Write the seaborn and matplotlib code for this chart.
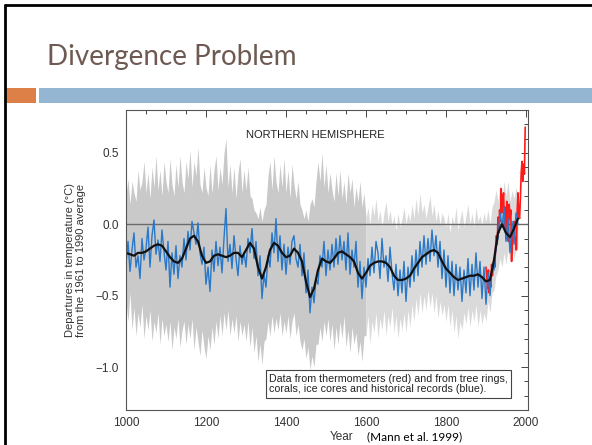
import numpy as np
import matplotlib
matplotlib.use("Agg")
import matplotlib.pyplot as plt
from matplotlib.patches import Rectangle
from matplotlib.lines import Line2D
from matplotlib.ticker import MultipleLocator
import seaborn as sns

# ---- data ----
years_5 = np.arange(1000, 1981, 5)      # annual proxy series shown every 5 years
years_10 = np.arange(1000, 1981, 10)    # smoothed curve every 10 years
years_red = np.arange(1900, 1999, 2)    # instrumental record every 2 years

proxy_blue = [
    -0.28, -0.12, -0.33, -0.18, -0.06, -0.30, -0.22, -0.38, -0.10, -0.25,
    -0.17, -0.02, -0.30, -0.08, 0.03, -0.21, -0.11, -0.26, -0.04, -0.19,
    -0.32, -0.12, -0.44, -0.20, -0.35, -0.15, -0.38, -0.22, -0.30, -0.10,
    -0.25, -0.05, -0.18, 0.02, -0.06, -0.14, 0.01, -0.20, -0.28, -0.16,
    -0.42, -0.30, -0.47, -0.18, -0.33, -0.12, -0.29, -0.16, -0.34, -0.10,
    0.11, -0.26, -0.14, -0.31, -0.08, -0.24, -0.36, -0.15, -0.28, -0.20,
    -0.30, -0.10, -0.20, -0.03, -0.24, -0.12, -0.36, -0.22, -0.52, -0.35,
    -0.44, -0.22, -0.30, -0.06, -0.20, 0.04, -0.26, -0.08, -0.32, -0.14,
    -0.35, -0.16, -0.28, -0.12, -0.08, -0.24, -0.30, -0.14, -0.36, -0.20,
    -0.48, -0.32, -0.62, -0.44, -0.55, -0.38, -0.42, -0.22, -0.30, -0.12,
    -0.36, -0.18, -0.32, -0.14, -0.30, -0.10, -0.28, -0.08, -0.25, -0.12,
    -0.32, -0.06, -0.35, -0.18, -0.30, -0.12, -0.44, -0.26, -0.52, -0.30,
    -0.44, -0.24, -0.36, -0.16, -0.34, -0.12, -0.20, -0.38, -0.10, -0.30,
    -0.22, -0.40, -0.16, -0.34, -0.46, -0.28, -0.50, -0.32, -0.48, -0.26,
    -0.54, -0.30, -0.44, -0.22, -0.40, -0.18, -0.36, -0.12, -0.30, -0.08,
    -0.28, -0.10, -0.26, -0.04, -0.22, -0.08, -0.30, -0.12, -0.38, -0.18,
    -0.44, -0.22, -0.48, -0.26, -0.50, -0.28, -0.46, -0.30, -0.54, -0.32,
    -0.48, -0.24, -0.50, -0.28, -0.46, -0.20, -0.44, -0.26, -0.52, -0.30,
    -0.56, -0.34, -0.50, -0.30, -0.32, -0.16, -0.10, 0.08, -0.02, 0.12,
    -0.12, 0.04, -0.20, 0.02, -0.14, 0.08, 0.00,
]

smooth_black = [
    -0.20, -0.21, -0.22, -0.20, -0.20, -0.19, -0.17, -0.15, -0.14, -0.15,
    -0.19, -0.23, -0.26, -0.27, -0.24, -0.17, -0.10, -0.08, -0.12, -0.22,
    -0.27, -0.26, -0.22, -0.21, -0.22, -0.23, -0.22, -0.20, -0.20, -0.23,
    -0.18, -0.13, -0.17, -0.30, -0.38, -0.30, -0.18, -0.13, -0.15, -0.20,
    -0.23, -0.22, -0.17, -0.20, -0.26, -0.40, -0.51, -0.45, -0.32, -0.24,
    -0.26, -0.27, -0.24, -0.20, -0.19, -0.21, -0.23, -0.26, -0.34, -0.38,
    -0.34, -0.29, -0.27, -0.26, -0.26, -0.27, -0.30, -0.36, -0.39, -0.39,
    -0.38, -0.36, -0.31, -0.27, -0.23, -0.21, -0.19, -0.18, -0.20, -0.26,
    -0.31, -0.34, -0.37, -0.39, -0.38, -0.37, -0.36, -0.36, -0.35, -0.37,
    -0.40, -0.39, -0.25, -0.06, 0.00, -0.06, -0.09, -0.03, 0.04,
]

instrumental_red = [
    -0.30, -0.38, -0.45, -0.32, -0.48, -0.40, -0.44, -0.28, -0.36, -0.30,
    -0.24, -0.30, -0.16, -0.08, -0.14, 0.05, -0.06, 0.10, 0.02, 0.25,
    0.08, 0.18, 0.22, -0.02, 0.12, -0.10, 0.16, -0.06, -0.12, 0.14,
    0.04, 0.10, -0.26, -0.04, -0.10, 0.02, -0.08, -0.14, -0.18, 0.10,
    0.22, 0.06, 0.04, 0.18, 0.36, 0.44, 0.30, 0.42, 0.35, 0.68,
]

band_upper = [
    0.20, 0.32, 0.14, 0.30, 0.22, 0.16, 0.38, 0.24, 0.30, 0.44, 0.22, 0.36, 0.18, 0.40, 0.26, 0.48, 0.24, 0.38, 0.20, 0.44,
    0.30, 0.22, 0.46, 0.28, 0.20, 0.42, 0.26, 0.48, 0.30, 0.22, 0.44, 0.32, 0.52, 0.26, 0.44, 0.34, 0.54, 0.28, 0.22, 0.40,
    0.26, 0.20, 0.42, 0.22, 0.38, 0.48, 0.24, 0.40, 0.28, 0.50, 0.60, 0.26, 0.42, 0.22, 0.40, 0.18, 0.36, 0.46, 0.22, 0.38,
    0.24, 0.40, 0.20, 0.18, 0.10, 0.08, 0.04, 0.12, 0.02, 0.10, 0.14, 0.34, 0.44, 0.24, 0.48, 0.30, 0.22, 0.42, 0.26, 0.46,
    0.22, 0.38, 0.18, 0.42, 0.28, 0.18, 0.30, 0.14, 0.10, 0.04, 0.10, 0.02, 0.14, 0.18, 0.12, 0.30, 0.44, 0.30, 0.50, 0.26,
    0.42, 0.22, 0.36, 0.24, 0.16, 0.36, 0.20, 0.38, 0.18, 0.30, 0.14, 0.36, 0.22, 0.32, 0.12, 0.26, 0.16, 0.30, 0.12, 0.22,
    0.04, 0.12, 0.00, 0.14, 0.06, 0.18, 0.02, 0.10, -0.02, 0.08, 0.16, 0.02, 0.10, 0.00, 0.06, -0.04, 0.08, -0.02, 0.04, 0.12,
    0.00, 0.08, 0.02, 0.14, 0.04, 0.18, 0.06, 0.22, 0.08, 0.14, 0.04, 0.12, 0.20, 0.06, 0.14, 0.02, 0.10, 0.00, 0.08, 0.04,
    -0.02, 0.08, -0.06, 0.06, 0.00, 0.12, -0.04, 0.04, 0.10, -0.02, 0.06, 0.14, 0.00, 0.08, -0.02, 0.12, 0.02, 0.06, 0.00, 0.08,
    0.02, 0.10, 0.00, 0.12, 0.16, 0.24, 0.16, 0.28, 0.18, 0.30, 0.20, 0.30, 0.16, 0.24, 0.18, 0.26, 0.20,
]

band_lower = [
    -0.54, -0.68, -0.48, -0.74, -0.58, -0.78, -0.62, -0.72, -0.56, -0.80, -0.64, -0.74, -0.60, -0.82, -0.68, -0.76, -0.62, -0.84, -0.66, -0.78,
    -0.70, -0.82, -0.68, -0.88, -0.72, -0.80, -0.66, -0.86, -0.74, -0.68, -0.84, -0.70, -0.80, -0.66, -0.88, -0.72, -0.82, -0.92, -0.74, -0.86,
    -0.94, -0.78, -0.88, -0.72, -0.84, -0.68, -0.80, -0.64, -0.78, -0.62, -0.74, -0.60, -0.78, -0.66, -0.76, -0.64, -0.82, -0.68, -0.78, -0.70,
    -0.82, -0.68, -0.86, -0.72, -0.90, -0.78, -0.96, -0.84, -0.98, -0.82, -0.80, -0.68, -0.78, -0.64, -0.76, -0.66, -0.74, -0.62, -0.78, -0.68,
    -0.76, -0.64, -0.80, -0.68, -0.62, -0.78, -0.70, -0.82, -0.88, -0.80, -0.94, -0.86, -1.02, -0.92, -1.00, -0.84, -0.84, -0.72, -0.82, -0.68,
    -0.78, -0.66, -0.82, -0.70, -0.88, -0.72, -0.84, -0.68, -0.80, -0.64, -0.86, -0.74, -0.90, -0.72, -0.84, -0.76, -0.92, -0.82, -0.96, -0.78,
    -0.78, -0.64, -0.84, -0.68, -0.76, -0.62, -0.80, -0.66, -0.74, -0.60, -0.78, -0.64, -0.72, -0.58, -0.76, -0.64, -0.80, -0.66, -0.74, -0.62,
    -0.76, -0.60, -0.72, -0.56, -0.68, -0.52, -0.64, -0.48, -0.62, -0.50, -0.60, -0.46, -0.58, -0.48, -0.62, -0.50, -0.66, -0.54, -0.64, -0.56,
    -0.68, -0.56, -0.72, -0.60, -0.76, -0.64, -0.80, -0.68, -0.74, -0.62, -0.70, -0.58, -0.72, -0.60, -0.68, -0.56, -0.72, -0.60, -0.70, -0.62,
    -0.68, -0.54, -0.62, -0.48, -0.46, -0.36, -0.32, -0.24, -0.30, -0.20, -0.28, -0.18, -0.26, -0.16, -0.24, -0.18, -0.16,
]

sns.set_style("white")
plt.rcParams['font.family'] = ['Liberation Sans', 'DejaVu Sans']

fig = plt.figure(figsize=(5.92, 4.45), dpi=100)
fig.patch.set_facecolor("white")

# slide decoration
fig.add_artist(Line2D([5 / 592, 5 / 592], [0, 1 - 5 / 445], color="black", lw=2))
fig.add_artist(Line2D([5 / 592, 1], [1 - 5 / 445, 1 - 5 / 445], color="black", lw=2))
fig.add_artist(Rectangle((5 / 592, 1 - 103 / 445), 31 / 592, 15 / 445,
                         transform=fig.transFigure, color="#DD8047", lw=0))
fig.add_artist(Rectangle((39 / 592, 1 - 103 / 445), 553 / 592, 15 / 445,
                         transform=fig.transFigure, color="#94B6D2", lw=0))
fig.text(47 / 592, 1 - 65 / 445, "Divergence Problem", fontsize=20,
         family=["Lato", "DejaVu Sans"], color="#6E5A52", va="baseline")

ax = fig.add_axes([126 / 592, 35 / 445, 402 / 592, 300 / 445])

yrs = np.array(years_5)
up = np.array(band_upper)
lo = np.array(band_lower)
early = yrs <= 1600
late = yrs >= 1600
ax.fill_between(yrs[early], lo[early], up[early], color="#c9c9c9", lw=0)
ax.fill_between(yrs[late], lo[late], up[late], color="#dadada", lw=0)

ax.axhline(0, color="#6a6a6a", lw=1)

sns.lineplot(x=years_red, y=instrumental_red, color="#ff1a1a", lw=1.2, ax=ax)
sns.lineplot(x=years_5, y=proxy_blue, color="#2a78c8", lw=1.0, ax=ax)
sns.lineplot(x=years_10, y=smooth_black, color="#111111", lw=1.6, ax=ax)

ax.set_xlim(1000, 2005)
ax.set_ylim(-1.3, 0.8)
ax.xaxis.set_major_locator(MultipleLocator(200))
ax.xaxis.set_minor_locator(MultipleLocator(50))
ax.yaxis.set_minor_locator(MultipleLocator(0.1))
ax.set_yticks([-1.0, -0.5, 0.0, 0.5])
ax.set_yticklabels(["\u22121.0", "\u22120.5", "0.0", "0.5"])
ax.tick_params(which="both", direction="in", top=True, right=True,
               labelsize=8.5, labelcolor="#333333", color="#444444", width=0.7)
ax.tick_params(which="major", length=5, pad=5)
ax.tick_params(which="minor", length=3)
for s in ax.spines.values():
    s.set_color("#555555")
    s.set_linewidth(0.8)

ax.set_xlabel("")
ax.set_ylabel("Departures in temperature (\u00b0C)\nfrom the 1961 to 1990 average",
              fontsize=8, color="#333333", labelpad=7, linespacing=1.1)

ax.text(0.47, 0.915, "NORTHERN HEMISPHERE", transform=ax.transAxes,
        ha="center", va="center", fontsize=8, color="#222222")
ax.text(0.355, 0.087,
        "Data from thermometers (red) and from tree rings,\ncorals, ice cores and historical records (blue).",
        transform=ax.transAxes, ha="left", va="center", fontsize=7.7,
        color="#222222", linespacing=1.1,
        bbox=dict(boxstyle="square,pad=0.3", fc="white", ec="#444444", lw=0.8))

fig.text(342 / 592, 1 - 437 / 445, "Year", fontsize=8.5, color="#333333",
         ha="center", va="center")
fig.text(367 / 592, 1 - 437 / 445, "(Mann et al. 1999)", fontsize=8.5,
         family=["Lato", "DejaVu Sans"], color="black", ha="left", va="center")

fig.savefig("out.png", dpi=100, facecolor="white")
